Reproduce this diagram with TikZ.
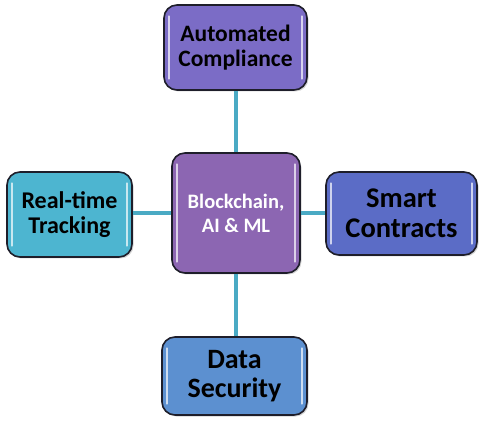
\documentclass[tikz,border=0pt]{standalone}
\usepackage{fontspec}
\setmainfont{Carlito}
\usetikzlibrary{shadows}
\definecolor{cTop}{HTML}{7B6CC6}
\definecolor{cMid}{HTML}{8C66B2}
\definecolor{cLeft}{HTML}{4DB5D0}
\definecolor{cRight}{HTML}{5B6CC6}
\definecolor{cBot}{HTML}{5C90D0}
\definecolor{cLink}{HTML}{4AAAC4}
\definecolor{cEdge}{HTML}{1E1E2A}
\tikzset{
  boxstyle/.style={draw=cEdge, line width=1.6pt, rounded corners=13pt, align=center,
    font=\bfseries, inner sep=0pt, text=black,
    drop shadow={opacity=0.35, shadow xshift=1.5pt, shadow yshift=-1.5pt}},
  link/.style={draw=cLink, line width=3.5pt},
  gloss/.style={draw=white, line width=1.8pt, opacity=0.7, line cap=round}
}
\newcommand{\glossify}[1]{%
  \draw[gloss] ([xshift=6pt,yshift=-12pt]#1.north west) -- ([xshift=6pt,yshift=12pt]#1.south west);
  \draw[gloss] ([xshift=-6pt,yshift=-12pt]#1.north east) -- ([xshift=-6pt,yshift=12pt]#1.south east);
}
\begin{document}
\begin{tikzpicture}[x=1pt,y=-1pt]
\useasboundingbox[fill=white] (0,0) rectangle (480,425);
\node[boxstyle, minimum width=128pt, minimum height=120pt, fill=cMid, text=white,
  font=\bfseries\fontsize{20.5}{24}\selectfont] (mid) at (236,213) {Blockchain,\\AI \& ML};
\node[boxstyle, minimum width=143pt, minimum height=85pt, fill=cTop,
  font=\bfseries\fontsize{23.5}{24.5}\selectfont] (top) at (235.5,47.5) {Automated\\Compliance};
\node[boxstyle, minimum width=125pt, minimum height=85pt, fill=cLeft,
  font=\bfseries\fontsize{24}{25.5}\selectfont] (left) at (69.5,214.5) {Real-time\\Tracking};
\node[boxstyle, minimum width=151pt, minimum height=83pt, fill=cRight,
  font=\bfseries\fontsize{28.5}{30}\selectfont] (right) at (401.5,213.5) {Smart\\Contracts};
\node[boxstyle, minimum width=145pt, minimum height=78pt, fill=cBot,
  font=\bfseries\fontsize{28}{29}\selectfont] (bot) at (234.5,376) {Data\\Security};
\draw[link] (top.south -| mid.north) -- (mid.north);
\draw[link] (mid.south) -- (bot.north -| mid.south);
\draw[link] (left.east |- mid.west) -- (mid.west);
\draw[link] (mid.east) -- (right.west |- mid.east);
\glossify{mid}
\glossify{top}
\glossify{left}
\glossify{right}
\glossify{bot}
\end{tikzpicture}
\end{document}
